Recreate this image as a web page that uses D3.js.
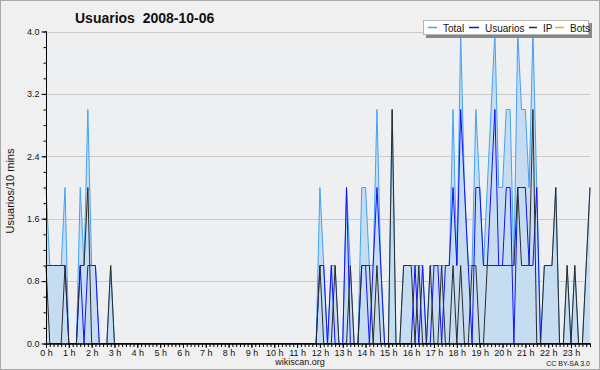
<!DOCTYPE html>
<html><head><meta charset="utf-8">
<script src="https://cdn.jsdelivr.net/npm/d3@7"></script>
<style>
body{margin:0;background:#f0f0f0}
svg{display:block}
text{font-family:"Liberation Sans",Arial,sans-serif;fill:#111}
</style>
</head><body>
<svg id="chart" width="600" height="370"></svg>
<script>
const chartTitle = "Usuarios  2008-10-06";
const yAxisLabel = "Usuarios/10 mins";
const footerText = "wikiscan.org";
const licenseText = "CC BY-SA 3.0";
const seriesNames = ["Total", "Usuarios", "IP", "Bots"];
const seriesColors = ["#42a2f7", "#1010ff", "#2b2b2b", "#ffa500"];
const hourLabels = ["0 h","1 h","2 h","3 h","4 h","5 h","6 h","7 h","8 h","9 h","10 h","11 h",
  "12 h","13 h","14 h","15 h","16 h","17 h","18 h","19 h","20 h","21 h","22 h","23 h"];
const yTickValues = [0, 0.8, 1.6, 2.4, 3.2, 4.0];

// one value per 10 minutes, one row per hour
const total = [
  2,1,1,1,1,2,  0,0,0,2,1,3,  1,1,0,0,0,1,  0,0,0,0,0,0,
  0,0,0,0,0,0,  0,0,0,0,0,0,  0,0,0,0,0,0,  0,0,0,0,0,0,
  0,0,0,0,0,0,  0,0,0,0,0,0,  0,0,0,0,0,0,  0,0,0,0,0,0,
  2,1,0,1,1,0,  0,2,1,0,0,2,  2,1,1,3,1,0,  0,3,0,0,1,1,
  1,1,1,1,0,1,  1,1,1,1,1,3,  1,4,2,1,1,3,  2,1,2,3,4,2,
  2,3,3,1,4,3,  3,2,4,2,0,1,  1,1,2,0,0,1,  0,1,0,0,1,2
];
const usuarios = [
  1,1,1,1,1,1,  0,0,0,1,0,1,  1,1,0,0,0,0,  0,0,0,0,0,0,
  0,0,0,0,0,0,  0,0,0,0,0,0,  0,0,0,0,0,0,  0,0,0,0,0,0,
  0,0,0,0,0,0,  0,0,0,0,0,0,  0,0,0,0,0,0,  0,0,0,0,0,0,
  1,1,0,1,0,0,  0,2,0,0,0,1,  1,0,1,2,1,0,  0,0,0,0,0,0,
  0,1,0,1,0,0,  1,1,0,1,1,2,  1,3,2,1,0,2,  2,1,1,2,3,1,
  1,2,2,0,2,2,  2,1,1,2,0,0,  0,0,0,0,0,0,  0,0,0,0,0,0
];
const ip = [
  1,0,0,0,0,1,  0,0,0,1,1,2,  0,0,0,0,0,1,  0,0,0,0,0,0,
  0,0,0,0,0,0,  0,0,0,0,0,0,  0,0,0,0,0,0,  0,0,0,0,0,0,
  0,0,0,0,0,0,  0,0,0,0,0,0,  0,0,0,0,0,0,  0,0,0,0,0,0,
  1,0,0,0,1,0,  0,0,1,0,0,1,  1,1,0,1,0,0,  0,3,0,0,1,1,
  1,0,1,0,0,1,  0,0,1,0,0,1,  0,1,0,0,1,1,  0,0,1,1,1,1,
  1,1,1,1,2,1,  1,1,3,0,0,1,  1,1,2,0,0,1,  0,1,0,0,1,2
];
const bots = [
  0,0,0,0,0,0,  0,0,0,0,0,0,  0,0,0,0,0,0,  0,0,0,0,0,0,
  0,0,0,0,0,0,  0,0,0,0,0,0,  0,0,0,0,0,0,  0,0,0,0,0,0,
  0,0,0,0,0,0,  0,0,0,0,0,0,  0,0,0,0,0,0,  0,0,0,0,0,0,
  0,0,0,0,0,0,  0,0,0,0,0,0,  0,0,0,0,0,0,  0,0,0,0,0,0,
  0,0,0,0,0,0,  0,0,0,0,0,0,  0,0,0,0,0,0,  0,0,0,0,0,0,
  0,0,0,0,0,0,  0,0,0,0,0,0,  0,0,0,0,0,0,  0,0,0,0,0,0
];

const svg = d3.select("#chart");
const L = 46, R = 590, T = 31.5, B = 343.5;
const x = d3.scaleLinear().domain([0, total.length - 1]).range([L, R]);
const y = d3.scaleLinear().domain([0, 4]).range([B, T]);

// background & frame
svg.append("rect").attr("x", 0.5).attr("y", 0.5).attr("width", 599).attr("height", 369)
  .attr("fill", "#f0f0f0").attr("stroke", "#a9a9a9");
svg.append("rect").attr("x", L).attr("y", T).attr("width", R - L).attr("height", B - T)
  .attr("fill", "#eeeff1");

// grid
svg.append("g").selectAll("line").data(yTickValues.filter(v => v > 0)).join("line")
  .attr("x1", L).attr("x2", R)
  .attr("y1", d => Math.round(y(d)) + 0.5).attr("y2", d => Math.round(y(d)) + 0.5)
  .attr("stroke", "#cbcbcb").attr("stroke-width", 1);

// area for total
svg.append("path").datum(total)
  .attr("d", d3.area().x((d, i) => x(i)).y0(y(0)).y1(d => y(d)))
  .attr("fill", "#c6ddf1");

const line = d3.line().x((d, i) => x(i)).y(d => y(d));
const seriesData = [bots, total, usuarios, ip];
const seriesCol = [seriesColors[3], seriesColors[0], seriesColors[1], seriesColors[2]];
seriesData.forEach((s, k) => {
  svg.append("path").datum(s).attr("d", line)
    .attr("fill", "none").attr("stroke", seriesCol[k]).attr("stroke-width", 1)
    .attr("stroke-linejoin", "miter");
});

// y axis
const yMinor = d3.range(0, 4.0001, 0.2);
const yAxisMinor = svg.append("g").attr("transform", `translate(${L + 0.5},0)`)
  .call(d3.axisLeft(y).tickValues(yMinor).tickSize(3).tickFormat(""));
const yAxis = svg.append("g").attr("transform", `translate(${L + 0.5},0)`)
  .call(d3.axisLeft(y).tickValues(yTickValues).tickSize(5).tickPadding(2).tickFormat(d3.format(".1f")));
[yAxisMinor, yAxis].forEach(g => {
  g.selectAll("path,line").attr("stroke", "#000");
  g.select(".domain").attr("d", `M0,${T}V${B + 0.5}`);
});
yAxis.selectAll("text").attr("font-size", 9).attr("fill", "#111")
  .style("font-family", "Liberation Sans, Arial, sans-serif");

// x axis
const xMinor = d3.range(0, total.length);
const xMajor = hourLabels.map((h, i) => i * 6);
const xAxisMinor = svg.append("g").attr("transform", `translate(0,${B + 0.5})`)
  .call(d3.axisBottom(x).tickValues(xMinor).tickSize(3).tickFormat(""));
const xAxis = svg.append("g").attr("transform", `translate(0,${B + 0.5})`)
  .call(d3.axisBottom(x).tickValues(xMajor).tickSize(4).tickPadding(2)
    .tickFormat((d, i) => hourLabels[i]));
[xAxisMinor, xAxis].forEach(g => {
  g.selectAll("path,line").attr("stroke", "#000");
  g.select(".domain").attr("d", `M${L},0H${R + 1}`);
});
xAxis.selectAll("text").attr("font-size", 9).attr("fill", "#111")
  .style("font-family", "Liberation Sans, Arial, sans-serif");

// title and labels
svg.append("text").attr("x", 75).attr("y", 23).attr("font-size", 14).attr("font-weight", "bold")
  .style("white-space", "pre").attr("xml:space", "preserve").text(chartTitle);
svg.append("text").attr("transform", "translate(14,191) rotate(-90)").attr("text-anchor", "middle")
  .attr("font-size", 11).text(yAxisLabel);
svg.append("text").attr("x", 300).attr("y", 365).attr("text-anchor", "middle")
  .attr("font-size", 9).text(footerText);
svg.append("text").attr("x", 590).attr("y", 366).attr("text-anchor", "end")
  .attr("font-size", 7).text(licenseText);

// legend
const lg = svg.append("g");
lg.append("rect").attr("x", 426).attr("y", 23).attr("width", 166).attr("height", 15).attr("fill", "#888");
lg.append("rect").attr("x", 423.5).attr("y", 20.5).attr("width", 165).attr("height", 14)
  .attr("fill", "#fff").attr("stroke", "#b5b5b5");
const lgX = [428, 469, 529, 555];
const lgW = [9, 10, 8, 9];
seriesNames.forEach((n, i) => {
  lg.append("line").attr("x1", lgX[i]).attr("x2", lgX[i] + lgW[i]).attr("y1", 27.5).attr("y2", 27.5)
    .attr("stroke", seriesColors[i]).attr("stroke-width", 1.5);
  lg.append("text").attr("x", lgX[i] + lgW[i] + 6).attr("y", 31.5).attr("font-size", 10).text(n);
});
</script>
</body></html>
